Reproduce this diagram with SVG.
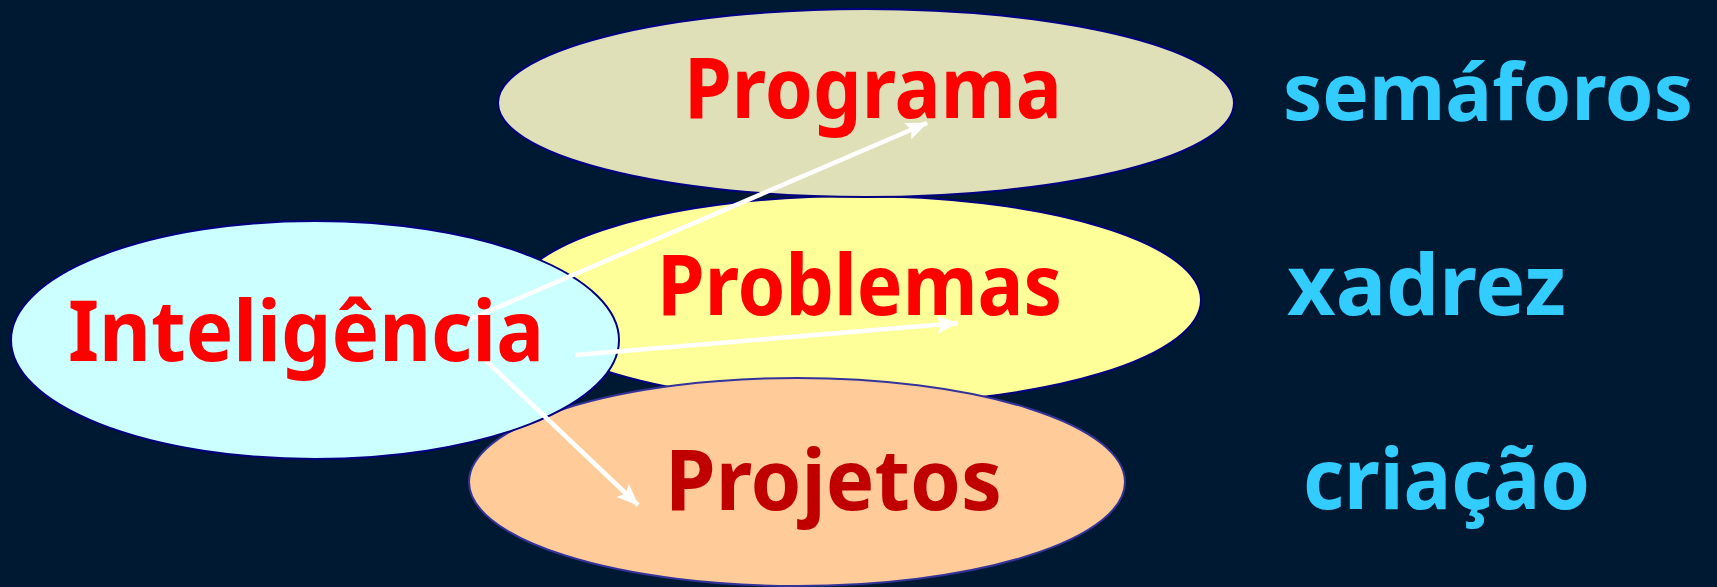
<svg xmlns="http://www.w3.org/2000/svg" width="1717" height="587" viewBox="0 0 1717 587">
<defs>
<style>
.node ellipse{stroke:#000080;stroke-width:2}
.lbl{font-family:"Comic Sans MS","Noto Sans","DejaVu Sans",sans-serif;font-weight:bold;font-size:84px}
.red{fill:#FF0000}
.dred{fill:#C00000}
.cyan{fill:#33CCFF}
.conn{stroke:#FFFFFF;stroke-width:4.5;fill:none;marker-end:url(#ah)}
</style>
<marker id="ah" markerUnits="userSpaceOnUse" markerWidth="24" markerHeight="20" refX="21" refY="10" orient="auto">
<path d="M0,1 L22,10 L0,19 L4,10 Z" fill="#FFFFFF"/>
</marker>
</defs>
<rect width="1717" height="587" fill="#001933"/>
<g id="problemas" class="node">
<ellipse cx="857" cy="300" rx="344" ry="104" fill="#FFFF99"/>
</g>
<g id="programa" class="node">
<ellipse cx="866" cy="103" rx="368" ry="94" fill="#DFDFB8"/>
</g>
<g id="projetos" class="node">
<ellipse cx="797" cy="482" rx="328" ry="104" fill="#FFCC99" style="stroke:#333399"/>
</g>
<g id="inteligencia" class="node">
<ellipse cx="315" cy="340" rx="304" ry="119" fill="#CCFFFF"/>
</g>
<g id="connectors">
<line class="conn" x1="468" y1="320" x2="927" y2="123"/>
<line class="conn" x1="575" y1="355" x2="958" y2="323"/>
<line class="conn" x1="480" y1="355" x2="638" y2="505"/>
</g>
<g id="labels">
<text class="lbl red" x="684" y="118" textLength="378" lengthAdjust="spacingAndGlyphs">Programa</text>
<text class="lbl red" x="657" y="315" textLength="405" lengthAdjust="spacingAndGlyphs">Problemas</text>
<text class="lbl red" x="68" y="361" textLength="476" lengthAdjust="spacingAndGlyphs">Inteligência</text>
<text class="lbl dred" x="665" y="510" textLength="337" lengthAdjust="spacingAndGlyphs">Projetos</text>
</g>
<g id="side-labels">
<text class="lbl cyan" x="1283" y="120" style="font-size:78px" textLength="410" lengthAdjust="spacingAndGlyphs">semáforos</text>
<text class="lbl cyan" x="1287" y="315" textLength="279" lengthAdjust="spacingAndGlyphs">xadrez</text>
<text class="lbl cyan" x="1303" y="509" textLength="287" lengthAdjust="spacingAndGlyphs">criação</text>
</g>
</svg>
